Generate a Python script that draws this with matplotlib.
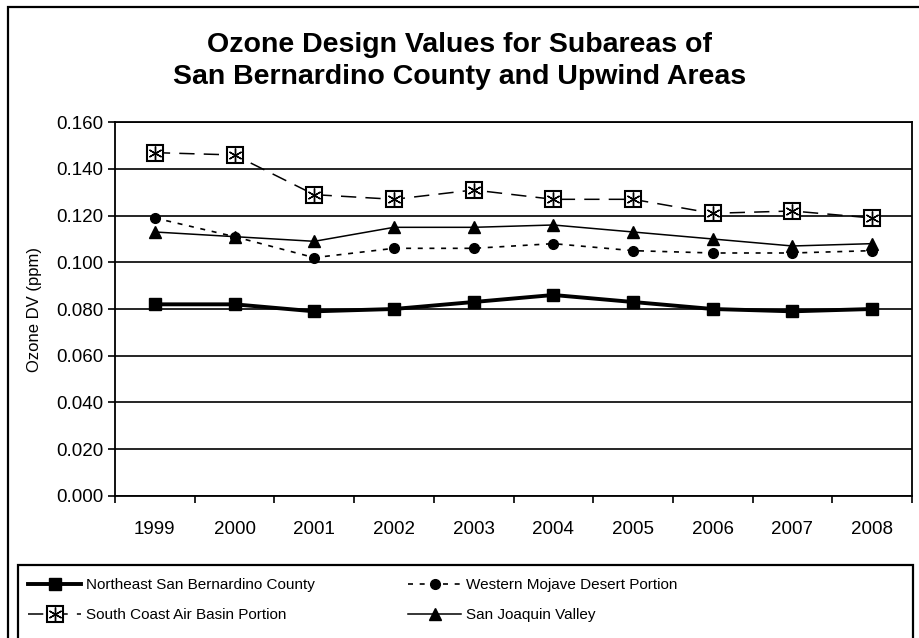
"""Ozone design values for subareas of San Bernardino County and upwind areas."""

import matplotlib

matplotlib.use("Agg")
import matplotlib.pyplot as plt
from matplotlib.patches import Rectangle
from matplotlib.legend_handler import HandlerTuple
import numpy as np

plt.rcParams.update({
    "font.family": ["Liberation Sans", "DejaVu Sans"],
    "font.size": 12,
})

years = ["1999", "2000", "2001", "2002", "2003", "2004", "2005", "2006", "2007", "2008"]
northeast = [0.082, 0.082, 0.079, 0.080, 0.083, 0.086, 0.083, 0.080, 0.079, 0.080]
western_mojave = [0.119, 0.111, 0.102, 0.106, 0.106, 0.108, 0.105, 0.104, 0.104, 0.105]
south_coast = [0.147, 0.146, 0.129, 0.127, 0.131, 0.127, 0.127, 0.121, 0.122, 0.119]
san_joaquin = [0.113, 0.111, 0.109, 0.115, 0.115, 0.116, 0.113, 0.110, 0.107, 0.108]


def main() -> None:
    fig = plt.figure(figsize=(9.2, 6.38), dpi=100)
    ax = fig.add_axes([115 / 920, 1 - 495.7 / 638, (912 - 115) / 920, (495.7 - 122.3) / 638])

    x = np.arange(len(years))

    # Excel-style series
    ne, = ax.plot(x, northeast, color="black", lw=2.8, marker="s", ms=8,
                  mfc="black", mec="black", zorder=5)
    wm, = ax.plot(x, western_mojave, color="black", lw=1.2, ls=(0, (3, 4)),
                  marker="o", ms=7, mfc="black", mec="black", zorder=4)
    sc, = ax.plot(x, south_coast, color="black", lw=1.1, ls=(0, (10, 6)),
                  marker="s", ms=11.5, mfc="white", mec="black", mew=1.5, zorder=4)
    sc_star, = ax.plot(x, south_coast, ls="none", marker=(6, 2, 0), ms=10,
                       mec="black", mew=1.0, zorder=6)
    sj, = ax.plot(x, san_joaquin, color="black", lw=1.1, marker="^", ms=8,
                  mfc="black", mec="black", zorder=4)

    ax.set_ylim(0, 0.16)
    ax.set_yticks(np.arange(0, 0.161, 0.02))
    ax.set_yticklabels([f"{v:.3f}" for v in np.arange(0, 0.161, 0.02)])
    ax.yaxis.grid(True, color="black", lw=1.2)
    ax.set_axisbelow(True)

    ax.set_xlim(-0.5, len(years) - 0.5)
    ax.set_xticks(np.arange(-0.5, len(years)), labels=[])
    ax.set_xticks(x, labels=years, minor=True)
    ax.tick_params(axis="x", which="minor", length=0, pad=18, labelsize=13.5)
    ax.tick_params(axis="both", which="major", direction="out", length=5,
                   width=1.2, labelsize=13.5)
    for s in ax.spines.values():
        s.set_linewidth(1.3)

    ax.set_ylabel("Ozone DV (ppm)", fontsize=12, labelpad=10)

    fig.text(0.5, 1 - 61 / 638,
             "Ozone Design Values for Subareas of\nSan Bernardino County and Upwind Areas",
             ha="center", va="center", fontsize=20.5, fontweight="bold", linespacing=1.25)

    # outer chart border and legend box (run past the image edge)
    fig.patches.append(Rectangle((8 / 920, -0.1), 1.2, 0.1 + 1 - 7 / 638,
                                 transform=fig.transFigure, fill=False, ec="black", lw=1.6))
    fig.patches.append(Rectangle((18 / 920, -0.1), (913 - 18) / 920, 0.1 + 1 - 565 / 638,
                                 transform=fig.transFigure, fill=False, ec="black", lw=1.6))

    leg_kw = dict(frameon=False, handlelength=3.5, handletextpad=0.3, labelspacing=1.07,
                  fontsize=11, handler_map={tuple: HandlerTuple(ndivide=1)},
                  borderaxespad=0, borderpad=0)
    fig.legend([ne, (sc, sc_star)],
               ["Northeast San Bernardino County", "South Coast Air Basin Portion"],
               loc="upper left", bbox_to_anchor=(28 / 920, 1 - 578 / 638), **leg_kw)
    fig.legend([wm, sj],
               ["Western Mojave Desert Portion", "San Joaquin Valley"],
               loc="upper left", bbox_to_anchor=(408 / 920, 1 - 578 / 638), **leg_kw)

    fig.savefig("out.png", dpi=100)
    plt.close(fig)


if __name__ == "__main__":
    main()
